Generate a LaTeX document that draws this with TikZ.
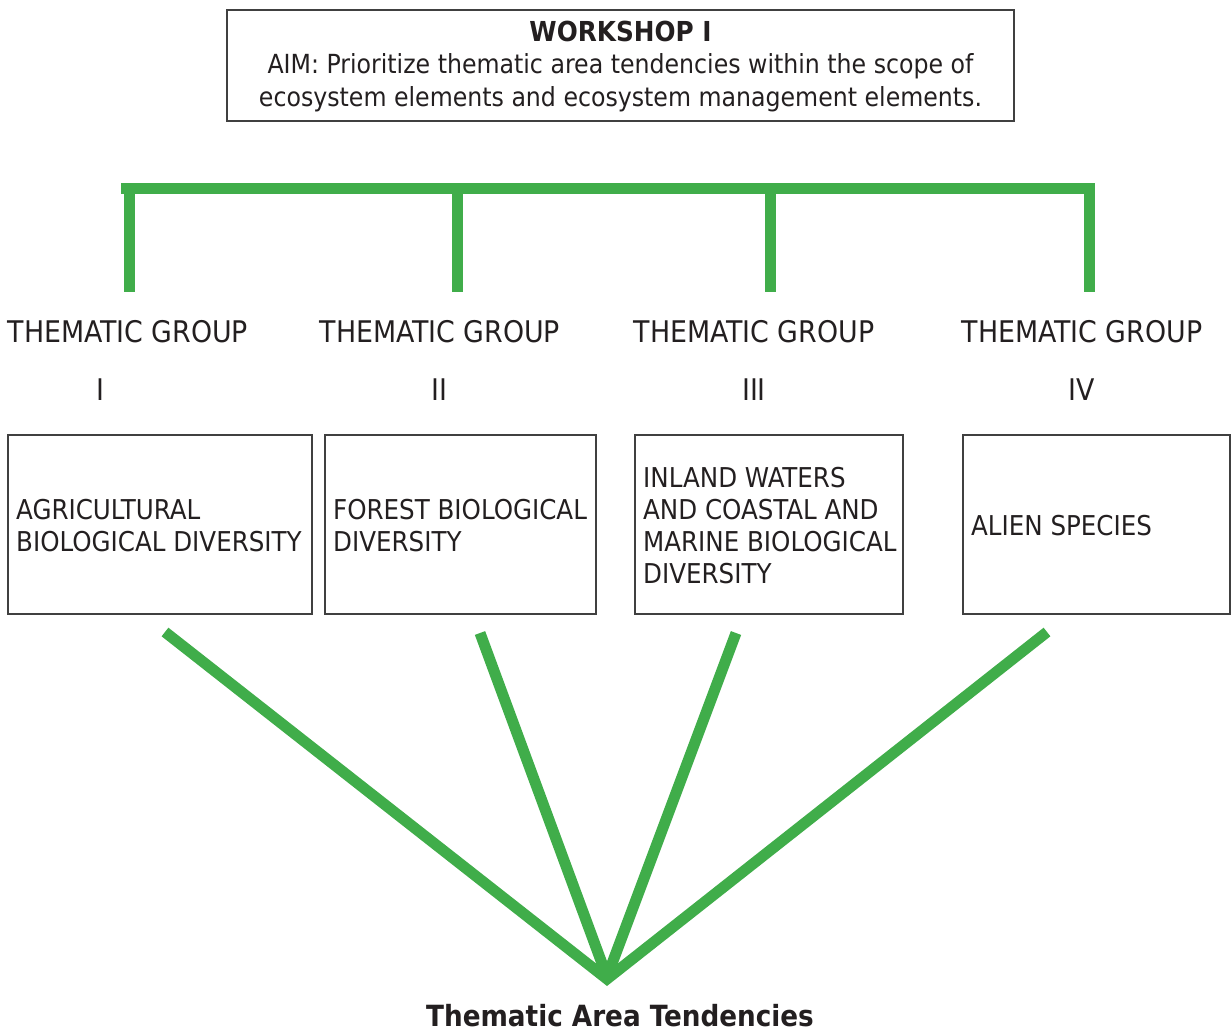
\documentclass[tikz,border=0pt]{standalone}
\usepackage{fontspec}
\setmainfont{DejaVu Sans Condensed}
\definecolor{grn}{RGB}{64,173,74}
\definecolor{txt}{RGB}{35,31,32}
\definecolor{frame}{RGB}{64,64,64}
\begin{document}
\begin{tikzpicture}[x=1pt,y=-1pt,
  every node/.style={text=txt,inner sep=0pt},
  boxframe/.style={draw=frame,line width=1.4pt},
  hdr/.style={anchor=center,font=\fontsize{29.8}{32}\selectfont},
  boxtext/.style={anchor=west,align=left,font=\fontsize{27.3}{32}\selectfont},
  bar/.style={draw=grn,line width=11pt,line cap=butt},
  ray/.style={draw=grn,line width=11pt,line cap=butt,line join=miter,miter limit=20}]
\useasboundingbox (0,0) rectangle (1232,1035);
% top box
\node[boxframe,minimum width=787pt,minimum height=111pt] (ws) at (620.5,65.5) {};
\node[align=center,font=\fontsize{26.3}{32.5}\selectfont] (wstext) at (620.5,66.5) {{\fontsize{27.5}{32.5}\selectfont\bfseries WORKSHOP I}\\AIM: Prioritize thematic area tendencies within the scope of\\ecosystem elements and ecosystem management elements.};
% bracket
\coordinate (barL) at (121,188.7);
\coordinate (barR) at (1095,188.7);
\coordinate (t1) at (129.3,188.7); \coordinate (b1) at (129.3,292);
\coordinate (t2) at (457,188.7); \coordinate (b2) at (457,292);
\coordinate (t3) at (770,188.7); \coordinate (b3) at (770,292);
\coordinate (t4) at (1089.5,188.7); \coordinate (b4) at (1089.5,292);
\draw[bar] (barL) -- (barR);
\draw[bar] ([yshift=-5pt]t1) -- (b1);
\draw[bar] ([yshift=-5pt]t2) -- (b2);
\draw[bar] ([yshift=-5pt]t3) -- (b3);
\draw[bar] ([yshift=-5pt]t4) -- (b4);
% headers
\node[hdr] (h1) at (128,332) {THEMATIC GROUP};
\node[hdr] (h2) at (440,332) {THEMATIC GROUP};
\node[hdr] (h3) at (754,332) {THEMATIC GROUP};
\node[hdr] (h4) at (1082,332) {THEMATIC GROUP};
\node[hdr] (n1) at (100,390) {I};
\node[hdr] (n2) at (439,390) {II};
\node[hdr] (n3) at (754,390) {III};
\node[hdr] (n4) at (1082,390) {IV};
% boxes
\node[boxframe,minimum width=304pt,minimum height=179pt] (g1) at (160,524.5) {};
\node[boxframe,minimum width=271pt,minimum height=179pt] (g2) at (460.5,524.5) {};
\node[boxframe,minimum width=268pt,minimum height=179pt] (g3) at (769,524.5) {};
\node[boxframe,minimum width=267pt,minimum height=179pt] (g4) at (1096.5,524.5) {};
\node[boxtext] (g1t) at (16,526) {AGRICULTURAL\\BIOLOGICAL DIVERSITY};
\node[boxtext] (g2t) at (333,526) {FOREST BIOLOGICAL\\DIVERSITY};
\node[boxtext] (g3t) at (643,526) {INLAND WATERS\\AND COASTAL AND\\MARINE BIOLOGICAL\\DIVERSITY};
\node[boxtext] (g4t) at (971,526) {ALIEN SPECIES};
% rays
\coordinate (r1) at (165,632);
\coordinate (r2) at (480,633);
\coordinate (r3) at (736,633);
\coordinate (r4) at (1047,632);
\coordinate (apex) at (607,979);
\coordinate (apexin) at (607,977);
\draw[ray] (r1) -- (apex) -- (r4);
\draw[ray] (r2) -- (apexin);
\draw[ray] (r3) -- (apexin);
\node[anchor=base,font=\fontsize{29.2}{32}\selectfont\bfseries] (tat) at (620,1026) {Thematic Area Tendencies};
\end{tikzpicture}
\end{document}
